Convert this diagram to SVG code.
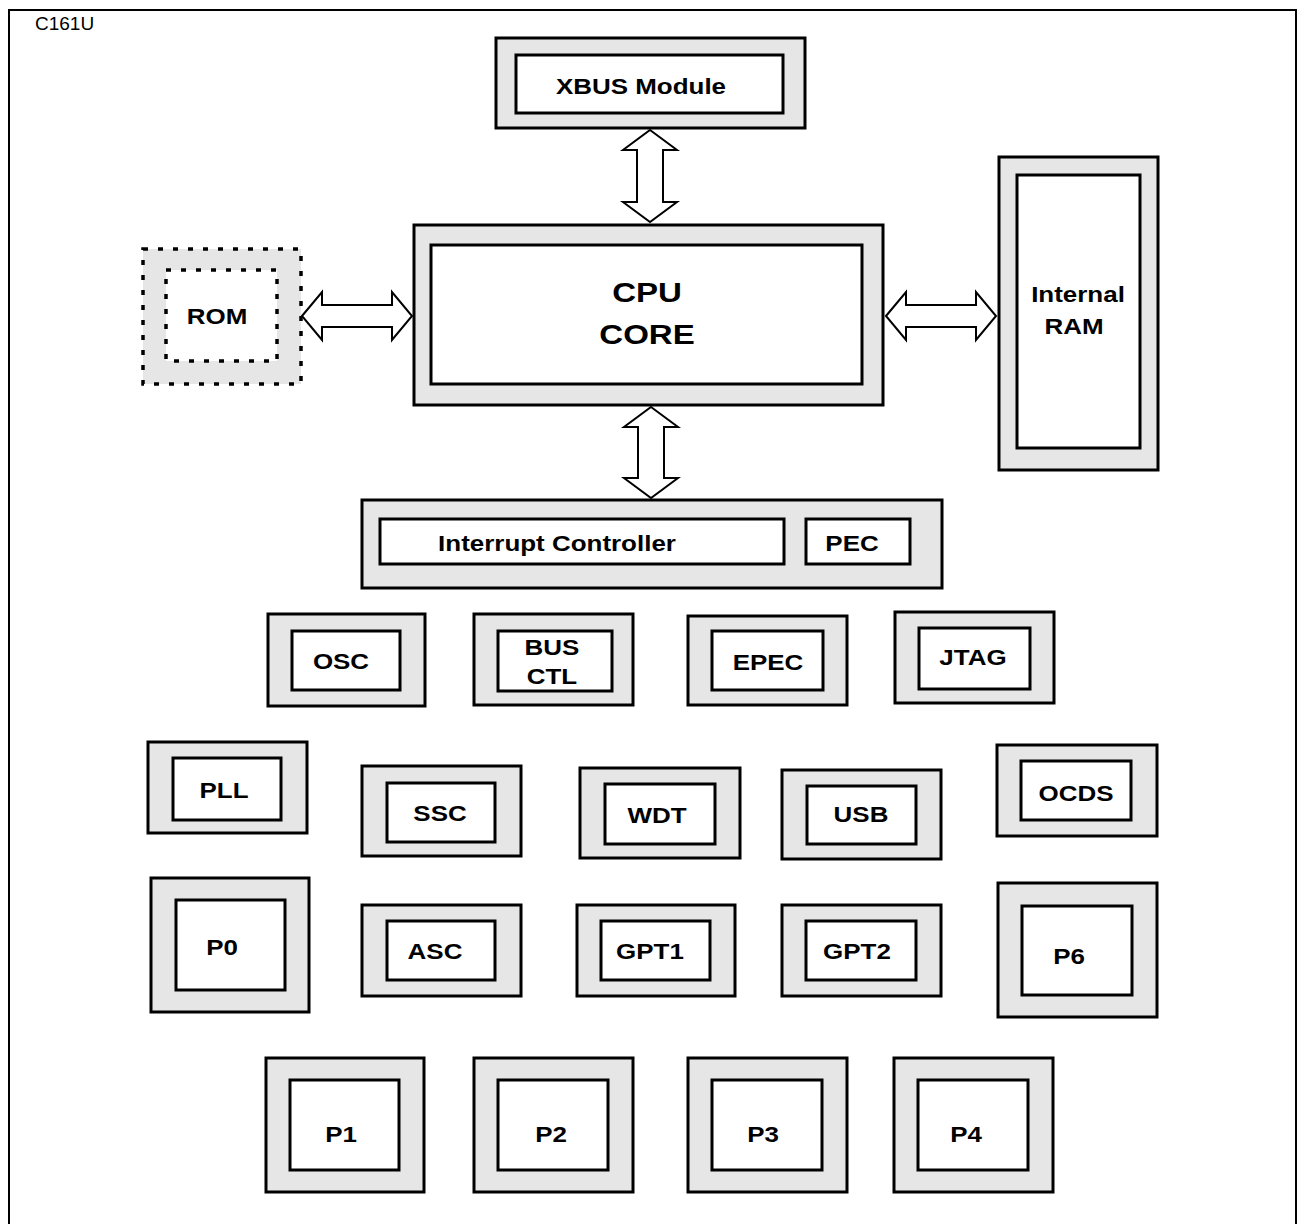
<svg xmlns="http://www.w3.org/2000/svg" width="1297" height="1224" viewBox="0 0 1297 1224">
<style>
.o{fill:#e6e6e6;stroke:#000;stroke-width:3}
.i{fill:#fff;stroke:#000;stroke-width:3}
.od{fill:#e6e6e6;stroke:#000;stroke-width:3.5;stroke-dasharray:5 10}
.idd{fill:#fff;stroke:#000;stroke-width:3.5;stroke-dasharray:5 10}
.t{font-family:"Liberation Sans",Arial,sans-serif;font-weight:bold;font-size:22px;text-anchor:middle;fill:#000}
.tb{font-family:"Liberation Sans",Arial,sans-serif;font-weight:bold;font-size:28px;text-anchor:middle;fill:#000}
.a{fill:#fff;stroke:#000;stroke-width:2;stroke-linejoin:miter}
</style>
<rect x="9" y="10" width="1287" height="1240" fill="#fff" stroke="#000" stroke-width="2"/>
<text x="35" y="30" font-family="'Liberation Sans',Arial,sans-serif" font-size="19" fill="#000">C161U</text>

<g id="connectors">
<polygon class="a" points="650,130 677,150 663,150 663,202 677,202 650,222 623,202 637,202 637,150 623,150"/>
<polygon class="a" points="651,407 678,427 664,427 664,478 678,478 651,498 624,478 638,478 638,427 624,427"/>
<polygon class="a" points="302,316 322,292 322,305 392,305 392,292 412,316 392,340 392,327 322,327 322,340"/>
<polygon class="a" points="886,316 906,292 906,305 976,305 976,292 996,316 976,340 976,327 906,327 906,340"/>
</g>

<g id="xbus"><rect class="o" x="496" y="38" width="309" height="90"/><rect class="i" x="516" y="55" width="267" height="58"/><text class="t" transform="translate(641,94) scale(1.18,1)">XBUS Module</text></g>
<g id="cpu"><rect class="o" x="414" y="225" width="469" height="180"/><rect class="i" x="431" y="245" width="431" height="139"/><text class="tb" transform="translate(647,302) scale(1.18,1)">CPU</text><text class="tb" transform="translate(647,344) scale(1.18,1)">CORE</text></g>
<g id="rom"><rect class="od" x="143" y="249" width="158" height="135"/><rect class="idd" x="166" y="270" width="111" height="91"/><text class="t" transform="translate(217,324) scale(1.18,1)">ROM</text></g>
<g id="ram"><rect class="o" x="999" y="157" width="159" height="313"/><rect class="i" x="1017" y="175" width="123" height="273"/><text class="t" transform="translate(1078,302) scale(1.18,1)">Internal</text><text class="t" transform="translate(1074,334) scale(1.18,1)">RAM</text></g>
<g id="intc"><rect class="o" x="362" y="500" width="580" height="88"/><rect class="i" x="380" y="519" width="404" height="45"/><rect class="i" x="806" y="519" width="104" height="45"/><text class="t" transform="translate(557,551) scale(1.18,1)">Interrupt Controller</text><text class="t" transform="translate(852,551) scale(1.18,1)">PEC</text></g>

<g id="osc"><rect class="o" x="268" y="614" width="157" height="92"/><rect class="i" x="292" y="631" width="108" height="59"/><text class="t" transform="translate(341,669) scale(1.18,1)">OSC</text></g>
<g id="busctl"><rect class="o" x="474" y="614" width="159" height="91"/><rect class="i" x="498" y="631" width="114" height="60"/><text class="t" transform="translate(552,655) scale(1.18,1)">BUS</text><text class="t" transform="translate(552,684) scale(1.18,1)">CTL</text></g>
<g id="epec"><rect class="o" x="688" y="616" width="159" height="89"/><rect class="i" x="712" y="631" width="111" height="59"/><text class="t" transform="translate(768,670) scale(1.18,1)">EPEC</text></g>
<g id="jtag"><rect class="o" x="895" y="612" width="159" height="91"/><rect class="i" x="919" y="628" width="111" height="61"/><text class="t" transform="translate(973,665) scale(1.18,1)">JTAG</text></g>

<g id="pll"><rect class="o" x="148" y="742" width="159" height="91"/><rect class="i" x="173" y="758" width="108" height="62"/><text class="t" transform="translate(224,798) scale(1.18,1)">PLL</text></g>
<g id="ssc"><rect class="o" x="362" y="766" width="159" height="90"/><rect class="i" x="387" y="783" width="108" height="59"/><text class="t" transform="translate(440,821) scale(1.18,1)">SSC</text></g>
<g id="wdt"><rect class="o" x="580" y="768" width="160" height="90"/><rect class="i" x="605" y="784" width="110" height="60"/><text class="t" transform="translate(657,823) scale(1.18,1)">WDT</text></g>
<g id="usb"><rect class="o" x="782" y="770" width="159" height="89"/><rect class="i" x="807" y="786" width="109" height="58"/><text class="t" transform="translate(861,822) scale(1.18,1)">USB</text></g>
<g id="ocds"><rect class="o" x="997" y="745" width="160" height="91"/><rect class="i" x="1021" y="761" width="110" height="59"/><text class="t" transform="translate(1076,801) scale(1.18,1)">OCDS</text></g>

<g id="p0"><rect class="o" x="151" y="878" width="158" height="134"/><rect class="i" x="176" y="900" width="109" height="90"/><text class="t" transform="translate(222,955) scale(1.18,1)">P0</text></g>
<g id="asc"><rect class="o" x="362" y="905" width="159" height="91"/><rect class="i" x="387" y="921" width="108" height="59"/><text class="t" transform="translate(435,959) scale(1.18,1)">ASC</text></g>
<g id="gpt1"><rect class="o" x="577" y="905" width="158" height="91"/><rect class="i" x="601" y="921" width="109" height="59"/><text class="t" transform="translate(650,959) scale(1.18,1)">GPT1</text></g>
<g id="gpt2"><rect class="o" x="782" y="905" width="159" height="91"/><rect class="i" x="806" y="921" width="110" height="59"/><text class="t" transform="translate(857,959) scale(1.18,1)">GPT2</text></g>
<g id="p6"><rect class="o" x="998" y="883" width="159" height="134"/><rect class="i" x="1022" y="906" width="110" height="89"/><text class="t" transform="translate(1069,964) scale(1.18,1)">P6</text></g>

<g id="p1"><rect class="o" x="266" y="1058" width="158" height="134"/><rect class="i" x="290" y="1080" width="109" height="90"/><text class="t" transform="translate(341,1142) scale(1.18,1)">P1</text></g>
<g id="p2"><rect class="o" x="474" y="1058" width="159" height="134"/><rect class="i" x="498" y="1080" width="110" height="90"/><text class="t" transform="translate(551,1142) scale(1.18,1)">P2</text></g>
<g id="p3"><rect class="o" x="688" y="1058" width="159" height="134"/><rect class="i" x="712" y="1080" width="110" height="90"/><text class="t" transform="translate(763,1142) scale(1.18,1)">P3</text></g>
<g id="p4"><rect class="o" x="894" y="1058" width="159" height="134"/><rect class="i" x="918" y="1080" width="110" height="90"/><text class="t" transform="translate(966,1142) scale(1.18,1)">P4</text></g>
</svg>
